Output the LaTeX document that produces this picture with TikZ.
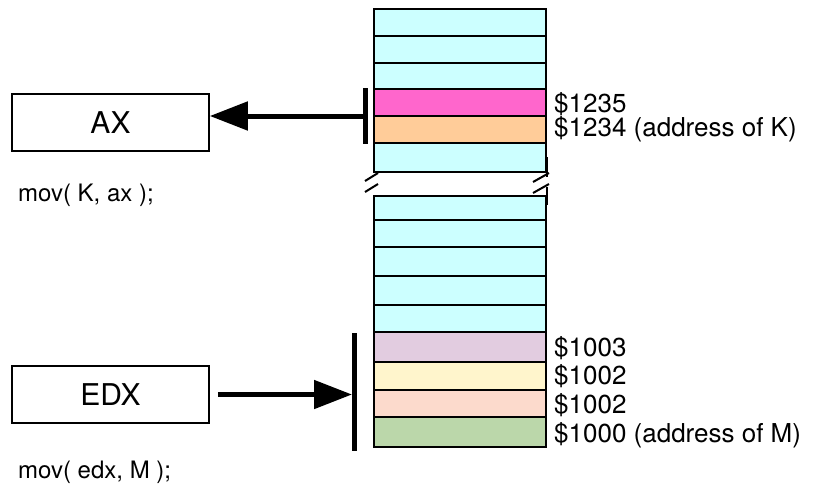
\documentclass[tikz,border=0pt]{standalone}
\usepackage{fontspec}
\setmainfont{TeX Gyre Heros}
\usetikzlibrary{arrows.meta}
\definecolor{cellcyan}{HTML}{CCFFFF}
\definecolor{cellmag}{HTML}{FF66CC}
\definecolor{cellpeach}{HTML}{FFCC99}
\definecolor{cellmauve}{HTML}{E2CCE0}
\definecolor{cellyellow}{HTML}{FFF5CC}
\definecolor{cellsalmon}{HTML}{FCDACC}
\definecolor{cellgreen}{HTML}{BBD7AA}
\begin{document}
\begin{tikzpicture}[x=1pt,y=-1pt,
  cell/.style={draw=black, line width=1.6pt, minimum width=172pt, inner sep=0pt, outer sep=0pt, anchor=north west},
  reg/.style={draw=black, line width=1.6pt, minimum width=197pt, minimum height=57pt, inner sep=0pt, font=\fontsize{30}{36}\selectfont},
  bar/.style={fill=black, minimum width=5pt, inner sep=0pt, outer sep=0pt},
  addr/.style={anchor=base west, inner sep=0pt, font=\fontsize{26}{30}\selectfont},
  code/.style={anchor=base west, inner sep=0pt, font=\fontsize{24}{29}\selectfont},
  conn/.style={line width=5pt, -{Triangle[length=38pt,width=28pt]}},
  brk/.style={line width=2pt}
]
\useasboundingbox (0,0) rectangle (813,485);
% top memory section
\node[cell, fill=cellcyan,  minimum height=27pt] (t1) at (374,9) {};
\node[cell, fill=cellcyan,  minimum height=27pt] (t2) at (374,36) {};
\node[cell, fill=cellcyan,  minimum height=26pt] (t3) at (374,63) {};
\node[cell, fill=cellmag,   minimum height=27pt] (t4) at (374,89) {};
\node[cell, fill=cellpeach, minimum height=27pt] (t5) at (374,116) {};
\node[cell, fill=cellcyan,  minimum height=29pt] (t6) at (374,143) {};
% bottom memory section
\node[cell, fill=cellcyan,   minimum height=24pt] (b1) at (374,196) {};
\node[cell, fill=cellcyan,   minimum height=27pt] (b2) at (374,220) {};
\node[cell, fill=cellcyan,   minimum height=29pt] (b3) at (374,247) {};
\node[cell, fill=cellcyan,   minimum height=29pt] (b4) at (374,276) {};
\node[cell, fill=cellcyan,   minimum height=27pt] (b5) at (374,305) {};
\node[cell, fill=cellmauve,  minimum height=30pt] (b6) at (374,332) {};
\node[cell, fill=cellyellow, minimum height=28pt] (b7) at (374,362) {};
\node[cell, fill=cellsalmon, minimum height=27pt] (b8) at (374,390) {};
\node[cell, fill=cellgreen,  minimum height=30pt] (b9) at (374,417) {};
% break marks
\draw[brk] (365,181) -- (378,173);
\draw[brk] (365,192) -- (378,184);
\draw[brk] (533,182) -- (549,173);
\draw[brk] (533,193) -- (549,184);
\draw[brk] (547,157) -- (547,177);
\draw[brk] (547,187) -- (547,205);
% address labels
\node[addr] (l1235) at (554,112) {\$1235};
\node[addr] (l1234) at (554,136) {\$1234 (address of K)};
\node[addr] (l1003) at (554,356) {\$1003};
\node[addr] (l1002a) at (554,384) {\$1002};
\node[addr] (l1002b) at (554,413) {\$1002};
\node[addr] (l1000) at (554,442) {\$1000 (address of M)};
% registers
\node[reg] (AX) at (110.5,122.5) {AX};
\node[reg] (EDX) at (110.5,394.5) {EDX};
\node[code] (codeK) at (18,201) {mov( K, ax );};
\node[code] (codeM) at (18,478) {mov( edx, M );};
% bars
\node[bar, minimum height=56pt] (barK) at (365.5,116) {};
\node[bar, minimum height=118pt] (barM) at (354.5,392) {};
% arrows
\draw[conn] (barK.west) -- (barK.west -| AX.east);
\draw[conn] ([xshift=8pt]EDX.east) -- (EDX.east -| barM.west);
\end{tikzpicture}
\end{document}
